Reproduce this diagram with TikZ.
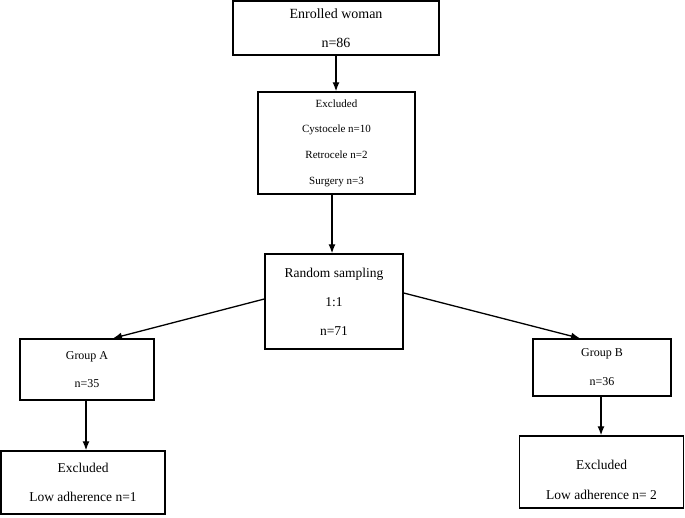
\documentclass[tikz,border=0pt]{standalone}
\usepackage{fontspec}
\setmainfont{Liberation Serif}
\usetikzlibrary{arrows.meta}
\tikzset{
  box/.style={draw, line width=1.4pt, rectangle, align=center, inner sep=0pt},
  link/.style={-{Latex[length=9pt,width=7pt]}, line width=1.3pt}
}
\begin{document}
\begin{tikzpicture}[x=1pt,y=-1pt]
      \useasboundingbox (0,0) rectangle (685,518);
      \draw
        (336,28) node[box, minimum width=206pt, minimum height=54pt,
          font=\fontsize{14}{29}\selectfont] (enrolled){Enrolled woman\\n=86}
        (336.5,143) node[box, minimum width=157pt, minimum height=102pt,
          font=\fontsize{11}{25.7}\selectfont] (excl){Excluded\\Cystocele n=10\\Retrocele n=2\\Surgery n=3}
        (334,301.5) node[box, minimum width=138pt, minimum height=95pt,
          font=\fontsize{13.5}{29}\selectfont] (random){Random sampling\\1:1\\n=71}
        (87,369.5) node[box, minimum width=134pt, minimum height=61pt,
          font=\fontsize{12}{28}\selectfont] (groupA){Group A\\n=35}
        (602,367.5) node[box, minimum width=138pt, minimum height=57pt,
          font=\fontsize{12}{29}\selectfont] (groupB){Group B\\n=36}
        (83,482.5) node[box, minimum width=164pt, minimum height=63pt,
          font=\fontsize{13.5}{29}\selectfont] (exclA){Excluded\\Low adherence n=1}
        (601.5,472) node[box, minimum width=164pt, minimum height=72pt,
          font=\fontsize{13.5}{30}\selectfont] (exclB){\\[-4pt]Excluded\\Low adherence n= 2};
      \begin{scope}[link]
        \draw (enrolled.south-|336,0) to (excl.north-|336,0);
        \draw (excl.south-|332,0) to (random.north-|332,0);
        \draw (random.west|-0,299) to (groupA.north-|113,0);
        \draw (random.east|-0,293) to (groupB.north-|580,0);
        \draw (groupA.south-|86,0) to (exclA.north-|86,0);
        \draw (groupB.south-|601,0) to (exclB.north-|601,0);
      \end{scope}
    \end{tikzpicture}
\end{document}
